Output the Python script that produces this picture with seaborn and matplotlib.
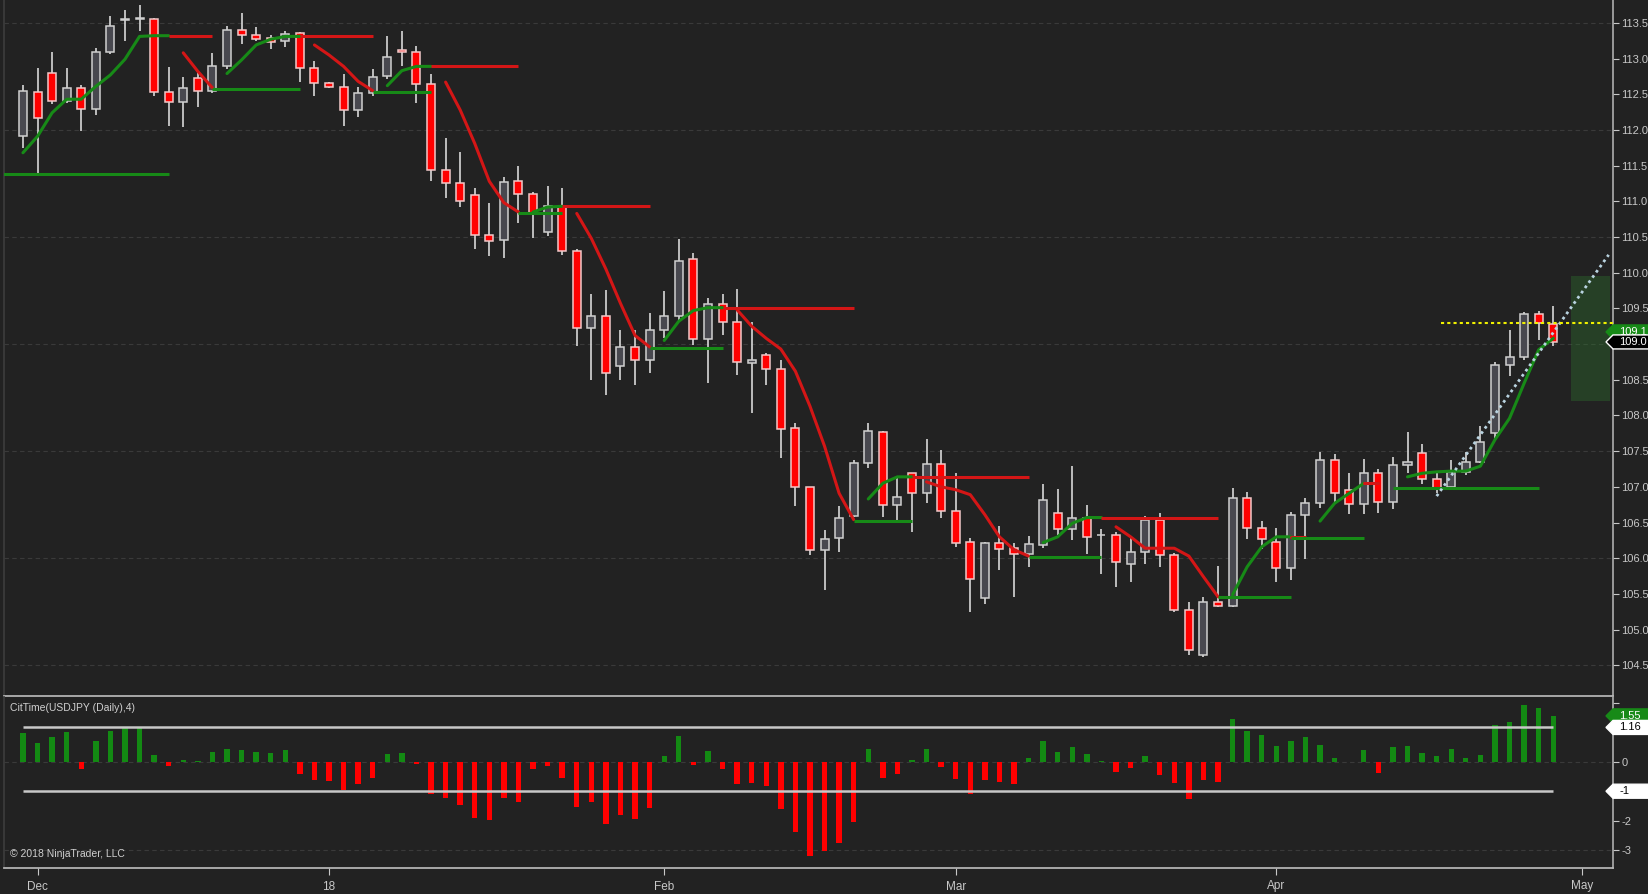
import matplotlib
matplotlib.use("Agg")
import numpy as np
import pandas as pd
import matplotlib.pyplot as plt
import matplotlib.patches as mpatches
import matplotlib.transforms as mtransforms
import seaborn as sns

# daily USDJPY bars, 30 Nov 2017 .. 27 Apr 2018
opens = [111.91, 112.53, 112.80, 112.40, 112.59, 112.29, 113.09, 113.54, 113.55, 113.55,
         112.53, 112.39, 112.73, 112.54, 112.89, 113.40, 113.33, 113.29, 113.24, 113.36,
         112.87, 112.66, 112.60, 112.28, 112.52, 112.75, 113.12, 113.09, 112.64, 111.44,
         111.25, 111.09, 110.53, 110.46, 111.28, 111.10, 110.57, 110.93, 110.30, 109.22,
         109.40, 108.69, 108.96, 108.78, 109.20, 109.39, 110.19, 109.07, 109.56, 109.31,
         108.73, 108.84, 108.65, 107.82, 107.00, 106.11, 106.29, 106.59, 107.33, 107.77,
         106.74, 107.19, 106.91, 107.32, 106.66, 106.23, 105.44, 106.21, 106.14, 106.06,
         106.18, 106.63, 106.41, 106.56, 106.32, 106.32, 105.92, 106.09, 106.54, 106.05,
         105.27, 104.64, 105.39, 105.33, 106.84, 106.42, 106.23, 105.87, 106.60, 106.77,
         107.37, 106.95, 106.76, 107.19, 106.79, 107.30, 107.47, 107.11, 107.00, 107.21,
         107.35, 107.76, 108.70, 108.82, 109.42, 109.28]
highs = [112.63, 112.87, 113.09, 112.87, 112.63, 113.15, 113.59, 113.68, 113.75, 113.57,
         112.88, 112.74, 112.82, 113.08, 113.45, 113.64, 113.44, 113.33, 113.39, 113.37,
         112.97, 112.67, 112.79, 112.60, 112.86, 113.31, 113.39, 113.18, 112.79, 111.88,
         111.69, 111.18, 110.98, 111.34, 111.49, 111.13, 111.22, 111.18, 110.33, 109.70,
         109.76, 109.20, 109.20, 109.43, 109.75, 110.47, 110.28, 109.65, 109.70, 109.77,
         109.31, 108.88, 108.78, 107.90, 107.00, 106.40, 106.73, 107.38, 107.90, 107.78,
         107.14, 107.20, 107.67, 107.52, 107.19, 106.28, 106.23, 106.45, 106.21, 106.31,
         107.04, 106.97, 107.29, 106.75, 106.41, 106.37, 106.28, 106.59, 106.63, 106.07,
         105.39, 105.46, 105.89, 106.99, 106.93, 106.52, 106.43, 106.65, 106.84, 107.49,
         107.46, 107.20, 107.39, 107.25, 107.42, 107.77, 107.60, 107.20, 107.38, 107.49,
         107.85, 108.75, 109.20, 109.45, 109.47, 109.54]
lows = [111.74, 111.40, 112.37, 112.38, 111.99, 112.21, 113.07, 113.25, 113.38, 112.47,
        112.06, 112.04, 112.32, 112.52, 112.85, 113.20, 113.24, 113.13, 113.16, 112.67,
        112.47, 112.59, 112.06, 112.18, 112.47, 112.72, 112.89, 112.38, 111.28, 111.04,
        110.92, 110.33, 110.24, 110.20, 110.69, 110.49, 110.51, 110.25, 108.97, 108.50,
        108.28, 108.50, 108.42, 108.60, 109.08, 109.34, 108.99, 108.46, 109.13, 108.57,
        108.04, 108.43, 107.41, 106.73, 106.04, 105.56, 106.09, 106.58, 107.27, 106.58,
        106.54, 106.37, 106.78, 106.56, 106.16, 105.24, 105.36, 105.84, 105.45, 105.88,
        106.15, 106.33, 106.25, 106.06, 105.78, 105.60, 105.66, 105.92, 105.88, 105.25,
        104.65, 104.62, 105.31, 105.32, 106.27, 106.13, 105.66, 105.69, 105.99, 106.71,
        106.77, 106.62, 106.62, 106.64, 106.69, 107.20, 107.04, 106.92, 106.99, 107.17,
        107.33, 107.66, 108.55, 108.78, 109.06, 108.97]
closes = [112.54, 112.17, 112.40, 112.59, 112.29, 113.09, 113.45, 113.55, 113.56, 112.53,
          112.39, 112.59, 112.54, 112.89, 113.40, 113.33, 113.27, 113.23, 113.34, 112.87,
          112.66, 112.60, 112.28, 112.52, 112.74, 113.02, 113.09, 112.64, 111.44, 111.25,
          111.00, 110.53, 110.44, 111.27, 111.10, 110.82, 110.93, 110.30, 109.22, 109.40,
          108.59, 108.96, 108.78, 109.20, 109.39, 110.16, 109.07, 109.56, 109.31, 108.75,
          108.77, 108.65, 107.81, 107.00, 106.11, 106.27, 106.57, 107.33, 107.78, 106.74,
          106.86, 106.91, 107.32, 106.66, 106.22, 105.71, 106.21, 106.13, 106.06, 106.20,
          106.82, 106.41, 106.56, 106.30, 106.33, 105.95, 106.09, 106.54, 106.04, 105.27,
          104.72, 105.39, 105.33, 106.84, 106.42, 106.27, 105.87, 106.60, 106.77, 107.37,
          106.91, 106.76, 107.19, 106.79, 107.30, 107.35, 107.11, 106.99, 107.21, 107.35,
          107.63, 108.70, 108.82, 109.42, 109.29, 109.03]

# trailing line, green while rising, red while falling (None = not drawn)
trail_green = [111.68, 111.91, 112.24, 112.43, 112.43, 112.61, 112.77, 112.99, 113.31, 113.32,
               113.32, None, None, None, 112.79, 112.98, 113.19, 113.27, 113.31, 113.31,
               None, None, None, None, None, 112.62, 112.83, 112.89, 112.89, None,
               None, None, None, None, None, 110.85, 110.92, 110.93, None, None,
               None, None, None, None, 109.05, 109.32, 109.47, 109.51, 109.51, None,
               None, None, None, None, None, None, None, None, 106.83, 107.05,
               107.14, 107.14, None, None, None, None, None, None, None, None,
               106.22, 106.30, 106.49, 106.57, 106.57, None, None, None, None, None,
               None, None, None, 105.49, 105.88, 106.16, 106.30, 106.30, None, 106.52,
               106.77, 106.91, 107.05, None, None, 107.14, 107.19, 107.21, 107.22, 107.22,
               107.29, 107.66, 107.96, 108.45, 108.92, 109.08]
trail_red = [None, None, None, None, None, None, None, None, None, None,
             None, 113.08, 112.82, 112.59, None, None, None, None, None, None,
             113.19, 113.05, 112.89, 112.68, 112.55, None, None, None, None, 112.67,
             112.28, 111.81, 111.28, 110.98, 110.85, None, None, None, 110.83, 110.48,
             110.05, 109.57, 109.12, 108.96, None, None, None, None, None, 109.48,
             109.25, 109.08, 108.93, 108.62, 108.13, 107.57, 106.91, 106.54, None, None,
             None, None, 107.07, 107.00, 106.96, 106.89, 106.61, 106.30, 106.12, 106.03,
             None, None, None, None, None, 106.44, 106.30, 106.14, 106.14, 106.14,
             106.03, 105.74, 105.46, None, None, None, None, 106.30, 106.30, None,
             None, None, 107.05, 107.05, None, None, None, None, None, None,
             None, None, None, None, None, None]

# swing levels
level_start = [-2, 10, 13, 19, 24, 28, 34, 37, 43, 48, 57, 61, 69, 74, 82, 87, 94]
level_end = [10, 13, 19, 24, 28, 34, 37, 43, 48, 57, 61, 69, 74, 82, 87, 92, 104]
level_price = [111.38, 113.32, 112.58, 113.31, 112.53, 112.89, 110.84, 110.93, 108.94,
               109.51, 106.52, 107.14, 106.02, 106.57, 105.45, 106.29, 106.99]
level_dir = ["up", "down", "up", "down", "up", "down", "up", "down", "up",
             "down", "up", "down", "up", "down", "up", "up", "up"]

# drawing objects at the right edge
trend_x = [97, 108.8]
trend_y = [106.87, 110.25]
yellow_x = [97.3, 109.1]
yellow_price = 109.29
zone_x = [106.2, 108.9]
zone_y = [108.2, 109.95]

# CitTime(USDJPY (Daily),4)
cit_vals = [0.97, 0.63, 0.85, 1.00, -0.25, 0.70, 1.04, 1.15, 1.15, 0.23,
            -0.14, 0.06, 0.02, 0.33, 0.43, 0.39, 0.33, 0.29, 0.39, -0.42,
            -0.61, -0.65, -0.96, -0.76, -0.55, 0.26, 0.29, -0.08, -1.09, -1.23,
            -1.47, -1.91, -1.97, -1.23, -1.36, -0.25, -0.15, -0.55, -1.53, -1.36,
            -2.11, -1.80, -1.94, -1.57, 0.19, 0.87, -0.11, 0.36, -0.25, -0.76,
            -0.72, -0.82, -1.60, -2.38, -3.19, -3.04, -2.74, -2.04, 0.43, -0.54,
            -0.42, 0.06, 0.43, -0.18, -0.57, -1.08, -0.62, -0.68, -0.76, 0.12,
            0.70, 0.33, 0.50, 0.26, 0.02, -0.34, -0.20, 0.19, -0.45, -0.72,
            -1.26, -0.62, -0.69, 1.44, 1.04, 0.90, 0.53, 0.70, 0.83, 0.56,
            0.12, 0.00, 0.39, -0.37, 0.50, 0.53, 0.29, 0.19, 0.43, 0.12,
            0.23, 1.24, 1.34, 1.92, 1.82, 1.55]
cit_upper = 1.16
cit_lower = -1

month_pos = [1, 21, 44, 64, 86, 107]
month_names = ["Dec", "18", "Feb", "Mar", "Apr", "May"]

BG = "#222222"
TXT = "#c8c8c8"
AXLINE = "#a8a8a8"
GRID = "#3a3a3a"
UP_FILL, UP_EDGE = "#48484f", "#d0d0d0"
DN_FILL, DN_EDGE = "#ff0000", "#f2c8c8"
LINE_G, LINE_R = "#178a17", "#d41616"
HIST_G, HIST_R = "#138a13", "#ff0000"

sns.set_theme(style="dark")
plt.rcParams["font.family"] = ["Liberation Sans", "DejaVu Sans"]

W, H = 1648, 894
fig = plt.figure(figsize=(W / 100, H / 100), dpi=100, facecolor=BG)
ax = fig.add_axes([4 / W, 1 - 696 / H, 1609 / W, 696 / H])
ax2 = fig.add_axes([4 / W, 1 - 868 / H, 1609 / W, 171 / H], sharex=ax)

for a in (ax, ax2):
    a.set_facecolor(BG)
    a.grid(False)
    for s in a.spines.values():
        s.set_visible(False)
    a.spines["right"].set_visible(True)
    a.spines["right"].set_color(AXLINE)
    a.spines["bottom"].set_visible(True)
    a.spines["bottom"].set_color("#b8b8b8")
    a.spines["left"].set_visible(True)
    a.spines["left"].set_color("#3c3c3c")

xlim = (-1.3, 109.1)

# ---- price panel ----
x = np.arange(len(opens))
o = np.array(opens)
c = np.array(closes)
up = c >= o

for g in np.arange(104.5, 114, 1.5):
    ax.axhline(g, color=GRID, lw=0.8, ls=(0, (4, 3)), zorder=0)

ax.vlines(x, lows, highs, color="#d8d8d8", lw=1.2, zorder=2)
ax.bar(x, np.maximum(np.abs(c - o), 0.012), bottom=np.minimum(o, c), width=0.55,
       color=np.where(up, UP_FILL, DN_FILL), edgecolor=np.where(up, UP_EDGE, DN_EDGE),
       linewidth=1.1, zorder=3)

rows = []
for name, vals in (("up", trail_green), ("down", trail_red)):
    seg = 0
    for i, v in enumerate(vals):
        if v is None:
            seg += 1
            continue
        rows.append({"bar": i, "price": v, "dir": name, "seg": f"{name}{seg}"})
trail_df = pd.DataFrame(rows)
sns.lineplot(data=trail_df, x="bar", y="price", hue="dir", units="seg", estimator=None,
             palette={"up": LINE_G, "down": LINE_R}, lw=2.2, sort=False, legend=False,
             ax=ax, zorder=5)

ax.hlines(level_price, level_start, level_end,
          colors=[LINE_G if d == "up" else LINE_R for d in level_dir], lw=2.2, zorder=5)

ax.add_patch(mpatches.Rectangle((zone_x[0], zone_y[0]), zone_x[1] - zone_x[0],
                                zone_y[1] - zone_y[0], facecolor="#2e7a2e", alpha=0.35,
                                edgecolor="none", zorder=1))
ax.plot(trend_x, trend_y, color="#b9d3e0", lw=2, ls=(0, (1, 1.3)), zorder=6)
ax.hlines(yellow_price, yellow_x[0], yellow_x[1], color="#f0f000", lw=1.5,
          linestyles=(0, (1.5, 1.5)), zorder=6)

ax.set_xlim(*xlim)
ax.set_ylim(104.07, 113.82)
ax.set_yticks(np.arange(104.5, 113.6, 0.5))
ax.set_yticklabels([f"{v:.1f}" for v in np.arange(104.5, 113.6, 0.5)])
ax.yaxis.tick_right()
ax.tick_params(axis="y", colors=TXT, labelsize=8, length=4, width=0.8, pad=2,
               direction="out", right=True, left=False)
ax.tick_params(axis="x", bottom=False, labelbottom=False)
ax.set_xlabel("")
ax.set_ylabel("")

# ---- CitTime panel ----
bar_idx = np.arange(len(cit_vals))
cit_dir = ["up" if v >= 0 else "down" for v in cit_vals]
for g in (0, -3):
    ax2.axhline(g, color=GRID, lw=0.8, ls=(0, (4, 3)), zorder=0)
sns.barplot(x=bar_idx, y=cit_vals, hue=cit_dir, palette={"up": HIST_G, "down": HIST_R},
            native_scale=True, width=0.37, saturation=1, dodge=False, legend=False,
            errorbar=None, edgecolor="none", linewidth=0, ax=ax2, zorder=3)
ax2.hlines([cit_upper, cit_lower], bar_idx[0], bar_idx[-1], color="#c8c8c8", lw=1.8, zorder=4)

ax2.set_xlim(*xlim)
ax2.set_ylim(-3.60, 2.19)
ax2.set_yticks([-3, -2, -1, 0, 1, 2])
ax2.set_yticklabels(["-3", "-2", "", "0", "", ""])
ax2.yaxis.tick_right()
ax2.tick_params(axis="y", colors=TXT, labelsize=8, length=4, width=0.8, pad=2,
                direction="out", right=True, left=False)
ax2.set_xticks(month_pos)
ax2.set_xticklabels(month_names)
ax2.tick_params(axis="x", colors=TXT, labelsize=8.5, length=5, width=0.8, pad=4,
                direction="out", bottom=True)
ax2.set_xlabel("")
ax2.set_ylabel("")


def price_tag(axis, y, text, face, edge, tcolor):
    bb = axis.get_window_extent()
    y0, y1 = axis.get_ylim()
    h = 14 * (y1 - y0) / bb.height
    w = 1 / bb.width
    tr = mtransforms.blended_transform_factory(axis.transAxes, axis.transData)
    pts = [(1 - 7 * w, y), (1, y + h / 2), (1 + 45 * w, y + h / 2),
           (1 + 45 * w, y - h / 2), (1, y - h / 2)]
    axis.add_patch(mpatches.Polygon(pts, closed=True, facecolor=face, edgecolor=edge,
                                    lw=1, transform=tr, clip_on=False, zorder=10))
    axis.text(1 + 6 * w, y, text, transform=tr, ha="left", va="center", fontsize=8,
              color=tcolor, clip_on=False, zorder=11)


fig.canvas.draw()
price_tag(ax, 109.17, "109.1", "#178a17", "#178a17", "white")
price_tag(ax, closes[-1], f"{closes[-1]:.1f}", "black", "white", "white")
price_tag(ax2, cit_vals[-1], f"{cit_vals[-1]:.2f}", "#178a17", "#178a17", "white")
price_tag(ax2, cit_upper, f"{cit_upper:.2f}", "white", "white", "black")
price_tag(ax2, cit_lower, f"{cit_lower:g}", "white", "white", "black")

fig.text(10 / W, 1 - 708 / H, "CitTime(USDJPY (Daily),4)", color="#d0d0d0",
         fontsize=7.5, va="center", ha="left")
fig.text(10 / W, 1 - 854 / H, "\u00a9 2018 NinjaTrader, LLC", color="#d0d0d0",
         fontsize=7.5, va="center", ha="left")

fig.savefig("out.png", dpi=100, facecolor=BG)
